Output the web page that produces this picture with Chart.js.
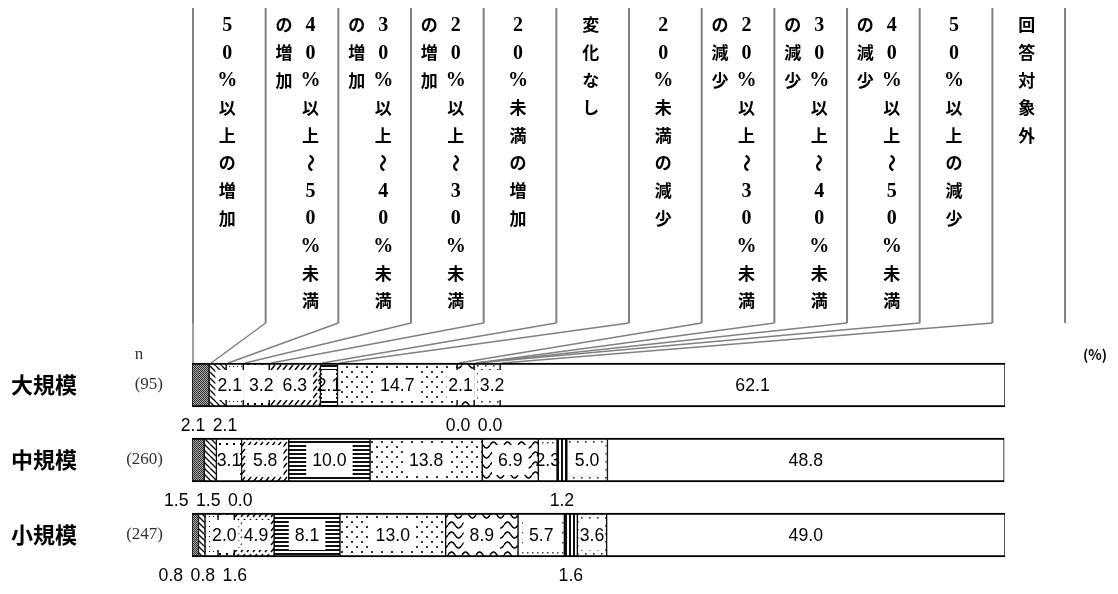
<!DOCTYPE html>
<html><head><meta charset="utf-8">
<script src="https://cdn.jsdelivr.net/npm/chart.js@4"></script>
<style>html,body{margin:0;padding:0;background:#fff;}#wrap{width:1118px;height:594px;}</style>
</head><body><div id="wrap"><canvas id="c" width="1118" height="594"></canvas></div>
<script>
// ---- data ----
const categories = ['大規模', '中規模', '小規模'];
const sampleSizes = ['(95)', '(260)', '(247)'];
const seriesNames = [
  '５０％以上の増加',
  '４０％以上～５０％未満の増加',
  '３０％以上～４０％未満の増加',
  '２０％以上～３０％未満の増加',
  '２０％未満の増加',
  '変化なし',
  '２０％未満の減少',
  '２０％以上～３０％未満の減少',
  '３０％以上～４０％未満の減少',
  '４０％以上～５０％未満の減少',
  '５０％以上の減少',
  '回答対象外'
];
const largeValues  = [2.1, 2.1, 2.1, 3.2, 6.3, 2.1, 14.7, 2.1, 0.0, 0.0, 3.2, 62.1];
const mediumValues = [1.5, 1.5, 0.0, 3.1, 5.8, 10.0, 13.8, 6.9, 2.3, 1.2, 5.0, 48.8];
const smallValues  = [0.8, 0.8, 1.6, 2.0, 4.9, 8.1, 13.0, 8.9, 5.7, 1.6, 3.6, 49.0];
const rows = [largeValues, mediumValues, smallValues];
// which labels are printed under the bar (index of series per row)
const belowLabels = [[0, 1, 8, 9], [0, 1, 2, 9], [0, 1, 2, 9]];

// ---- patterns ----
const canvas = document.getElementById('c');
const ctx0 = canvas.getContext('2d');
function pat(w, h, fn) {
  const t = document.createElement('canvas');
  t.width = w; t.height = h;
  const g = t.getContext('2d');
  g.fillStyle = '#fff'; g.fillRect(0, 0, w, h);
  g.fillStyle = '#000'; g.strokeStyle = '#000';
  fn(g);
  return ctx0.createPattern(t, 'repeat');
}
const patterns = [
  pat(2, 2, g => { g.fillStyle = '#aaa'; g.fillRect(0, 0, 2, 2); g.fillStyle = '#333'; g.fillRect(0, 0, 1, 1); g.fillRect(1, 1, 1, 1); }),
  pat(6, 6, g => { g.lineWidth = 1.3; g.beginPath(); for (const o of [-6, 0, 6]) { g.moveTo(o, 0); g.lineTo(o + 6, 6); } g.stroke(); }),
  pat(4, 5, g => { g.fillRect(1, 1, 1, 1); }),
  pat(7, 10, g => { g.fillRect(2, 3, 2, 2); }),
  pat(6, 7, g => { g.lineWidth = 1.4; g.beginPath(); g.moveTo(1, 6); g.lineTo(5, 1); g.stroke(); }),
  pat(4, 4, g => { g.fillStyle = '#111'; g.fillRect(0, 1, 4, 2); }),
  pat(10, 10, g => { g.fillStyle = '#333'; g.fillRect(1, 1, 2, 2); g.fillRect(6, 6, 2, 2); }),
  pat(14, 10, g => { g.lineWidth = 1.5; g.beginPath(); for (let x = 0; x <= 14; x += 0.5) { const y = 5 - 3 * Math.sin(2 * Math.PI * x / 14); if (x === 0) g.moveTo(x, y); else g.lineTo(x, y); } g.stroke(); }),
  pat(5, 10, g => { g.fillStyle = '#444'; g.fillRect(2, 2, 1.5, 1.5); }),
  pat(4, 4, g => { g.fillStyle = '#111'; g.fillRect(1, 0, 2, 4); }),
  pat(8, 8, g => { g.fillStyle = '#333'; g.fillRect(1, 1, 1.6, 1.6); g.fillRect(5, 5, 1.6, 1.6); }),
  '#ffffff'
];

// ---- header (vertical column captions + leader lines) ----
const colLeft = 193, colWidth = 72.67, lineTop = 8, lineBottom = 323, charStep = 27.6, firstCharY = 25;
function drawVertical(ctx, text, x, y0) {
  ctx.textAlign = 'center';
  ctx.textBaseline = 'middle';
  [...text].forEach((ch, k) => {
    const y = y0 + k * charStep;
    if (/[０-９％]/.test(ch)) {
      ctx.font = 'bold 20px "Liberation Serif", serif';
      ctx.fillText(String.fromCharCode(ch.charCodeAt(0) - 0xFEE0), x, y + 1);
    } else if (ch === '～') {
      ctx.save(); ctx.translate(x, y); ctx.rotate(Math.PI / 2);
      ctx.font = 'bold 18px "Noto Sans CJK JP", sans-serif';
      ctx.fillText(ch, 0, 0); ctx.restore();
    } else {
      ctx.font = 'bold 17px "Noto Sans CJK JP", sans-serif';
      ctx.fillText(ch, x, y);
    }
  });
}
const headerPlugin = {
  id: 'header',
  beforeDatasetsDraw(chart) {
    const ctx = chart.ctx;
    const firstEl = chart.getDatasetMeta(0).data[0];
    const barTop = firstEl.y - firstEl.height / 2;
    ctx.save();
    ctx.strokeStyle = '#808080';
    for (let i = 0; i <= seriesNames.length; i++) {
      const x = colLeft + i * colWidth;
      ctx.lineWidth = 2;
      ctx.beginPath(); ctx.moveTo(x, lineTop); ctx.lineTo(x, lineBottom); ctx.stroke();
      if (i < seriesNames.length) {
        const seg = chart.getDatasetMeta(i).data[0];
        ctx.lineWidth = 1.5;
        ctx.beginPath(); ctx.moveTo(x, lineBottom); ctx.lineTo(i === 0 ? x : seg.base + 2, barTop); ctx.stroke();
      }
    }
    ctx.fillStyle = '#000';
    seriesNames.forEach((name, i) => {
      const cx = colLeft + (i + 0.5) * colWidth;
      if (name.includes('～')) {
        const k = name.indexOf('未満') + 2;
        drawVertical(ctx, name.slice(0, k), cx + 8.5, firstCharY);
        drawVertical(ctx, name.slice(k), cx - 18, firstCharY);
      } else {
        drawVertical(ctx, name, cx - 2, firstCharY);
      }
    });
    // category labels
    const meta0 = chart.getDatasetMeta(0);
    categories.forEach((cat, r) => {
      const y = meta0.data[r].y;
      ctx.textBaseline = 'middle';
      ctx.textAlign = 'left';
      ctx.fillStyle = '#000';
      ctx.font = 'bold 22px "Noto Sans CJK JP", sans-serif';
      ctx.fillText(cat, 11, y);
      ctx.textAlign = 'right';
      ctx.fillStyle = '#333';
      ctx.font = '17px "Liberation Serif", serif';
      ctx.fillText(sampleSizes[r], 163, y);
    });
    ctx.textAlign = 'center';
    ctx.fillStyle = '#333';
    ctx.font = '17px "Liberation Serif", serif';
    ctx.fillText('n', 139, barTop - 8);
    ctx.fillStyle = '#000';
    ctx.font = 'bold 14px "Noto Sans CJK JP", sans-serif';
    ctx.fillText('(%)', 1095, barTop - 8);
    ctx.restore();
  }
};

// ---- value labels ----
const labelFont = '19px "Liberation Sans", Arial, sans-serif';
const squeeze = 0.93;
function drawLabelText(ctx, text, x, y) {
  ctx.save(); ctx.translate(x, y); ctx.scale(squeeze, 1); ctx.fillText(text, 0, 0); ctx.restore();
}
function spread(items, gapFn) {
  items.sort((a, b) => a.x - b.x);
  let clusters = items.map(b => ({ items: [b] }));
  const layout = cl => {
    const mean = cl.items.reduce((s, it) => s + it.x, 0) / cl.items.length;
    let total = 0;
    for (let k = 0; k < cl.items.length - 1; k++) total += gapFn(cl.items[k], cl.items[k + 1]);
    let pos = mean - total / 2;
    cl.items.forEach((it, k) => { it.px = pos; if (k < cl.items.length - 1) pos += gapFn(it, cl.items[k + 1]); });
  };
  clusters.forEach(layout);
  let merged = true;
  while (merged) {
    merged = false;
    for (let c = 0; c < clusters.length - 1; c++) {
      const A = clusters[c], B = clusters[c + 1];
      const a = A.items[A.items.length - 1], b = B.items[0];
      if (b.px - a.px < gapFn(a, b)) {
        const M = { items: A.items.concat(B.items) };
        layout(M);
        clusters.splice(c, 2, M);
        merged = true; break;
      }
    }
  }
  return items;
}
const labelPlugin = {
  id: 'valueLabels',
  afterDatasetsDraw(chart) {
    const ctx = chart.ctx;
    ctx.save();
    ctx.font = labelFont;
    ctx.textAlign = 'center';
    ctx.textBaseline = 'middle';
    categories.forEach((cat, r) => {
      const below = [], inside = [];
      let rowY = 0, rowBottom = 0;
      seriesNames.forEach((name, i) => {
        const el = chart.getDatasetMeta(i).data[r];
        const text = rows[r][i].toFixed(1);
        const left = Math.min(el.base, el.x), right = Math.max(el.base, el.x);
        const item = { text, x: (left + right) / 2, left, right, w: ctx.measureText(text).width * squeeze };
        rowY = el.y; rowBottom = el.y + el.height / 2;
        (belowLabels[r].includes(i) ? below : inside).push(item);
      });
      spread(inside, (a, b) => (a.w + b.w) / 2 + 7);
      inside.forEach(it => {
        let bl, br;
        if (Math.abs(it.px - it.x) < 0.5) {
          bl = Math.max(it.px - it.w / 2 - 6, it.left + 1.5);
          br = Math.min(it.px + it.w / 2 + 6, it.right - 1.5);
        } else {
          bl = it.px - it.w / 2 - 2; br = it.px + it.w / 2 + 2;
        }
        ctx.fillStyle = '#fff';
        ctx.fillRect(bl, rowY - 15, br - bl, 30);
      });
      ctx.fillStyle = '#000';
      inside.forEach(it => drawLabelText(ctx, it.text, it.px, rowY + 1));
      spread(below, () => 32);
      below.forEach(it => drawLabelText(ctx, it.text, it.px, rowBottom + 19));
    });
    ctx.restore();
  }
};

new Chart(canvas, {
  type: 'bar',
  data: {
    labels: categories,
    datasets: seriesNames.map((name, i) => ({
      label: name,
      data: rows.map(r => r[i]),
      backgroundColor: patterns[i],
      borderColor: '#000',
      borderWidth: { left: 1, right: 1, top: 2, bottom: 2 },
      borderSkipped: false,
      barThickness: 44
    }))
  },
  options: {
    indexAxis: 'y',
    responsive: false,
    devicePixelRatio: 1,
    animation: false,
    layout: { padding: { left: 192, right: 113, top: 347.5, bottom: 21.5 } },
    scales: {
      x: { stacked: true, min: 0, max: 100, display: false },
      y: { stacked: true, display: false }
    },
    plugins: { legend: { display: false }, tooltip: { enabled: false } }
  },
  plugins: [headerPlugin, labelPlugin]
});
</script>
</body></html>
